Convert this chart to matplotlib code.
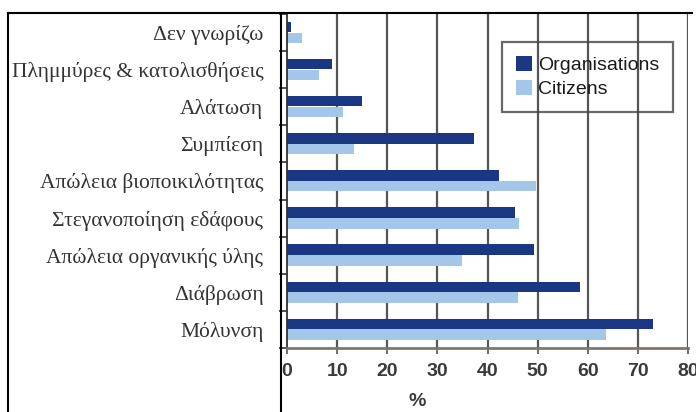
import matplotlib
matplotlib.use("Agg")
import matplotlib.pyplot as plt
from matplotlib.lines import Line2D
import numpy as np

# Soil threats, as in the source chart (top to bottom)
categories = [
    "Δεν γνωρίζω",
    "Πλημμύρες & κατολισθήσεις",
    "Αλάτωση",
    "Συμπίεση",
    "Απώλεια βιοποικιλότητας",
    "Στεγανοποίηση εδάφους",
    "Απώλεια οργανικής ύλης",
    "Διάβρωση",
    "Μόλυνση",
]
organisations = [0.8, 9, 15, 37.4, 42.3, 45.4, 49.2, 58.4, 73]
citizens = [3, 6.3, 11.2, 13.4, 49.7, 46.3, 34.9, 46.1, 63.7]
xticks = [0, 10, 20, 30, 40, 50, 60, 70, 80]

ORG_COLOR = "#1a3783"
CIT_COLOR = "#a3c6e9"
W, H = 696, 412

fig = plt.figure(figsize=(W / 100, H / 100), dpi=100)
ax = fig.add_axes([287 / W, 1 - 348 / H, (688 - 287) / W, (348 - 14) / H])

y = np.arange(len(categories))
bar_h = 0.28
ax.barh(y - 0.15, organisations, height=bar_h, color=ORG_COLOR, label="Organisations", zorder=2)
ax.barh(y + 0.14, citizens, height=bar_h, color=CIT_COLOR, label="Citizens", zorder=2)

ax.set_xlim(0, 80)
ax.set_ylim(8.5, -0.41)

# vertical grid
for xv in xticks[1:]:
    ax.axvline(xv, color="#555555", lw=1.6, zorder=1)

ax.set_xticks(xticks)
ax.set_xticklabels([str(v) for v in xticks], fontsize=14, color="#3a3a3a",
                   family="Liberation Sans", fontweight="bold")
ax.tick_params(axis="x", length=4, width=1.2, color="#555555", pad=7)

ax.set_yticks(y)
ax.set_yticklabels(categories, fontsize=15.5, color="#333333", family="Liberation Serif")
ax.tick_params(axis="y", which="major", length=0, pad=17)
ax.set_yticks(np.arange(-0.5, 8.6, 1), minor=True)
ax.tick_params(axis="y", which="minor", length=6, width=1.2, color="#333333")

for s in ["top", "right"]:
    ax.spines[s].set_visible(False)
ax.spines["left"].set_color("#333333")
ax.spines["left"].set_linewidth(1.3)
ax.spines["bottom"].set_color("#7d7570")
ax.spines["bottom"].set_linewidth(2)

ax.set_xlabel("%", fontsize=14, color="#3a3a3a", family="Liberation Sans", fontweight="bold")
ax.xaxis.set_label_coords((417 - 287) / (688 - 287), -(402 - 348) / (348 - 14))
ax.xaxis.label.set_va("center")

leg = ax.legend(loc="upper left", bbox_to_anchor=((502 - 287) / 401, 1 - (42 - 14) / 334),
                frameon=True, fancybox=False, edgecolor="#444444",
                prop={"family": "Liberation Sans", "size": 14},
                handlelength=0.85, handleheight=0.85, handletextpad=0.3,
                labelspacing=0.3, borderpad=0.7, borderaxespad=0)
leg.get_frame().set_linewidth(1.6)
leg.get_frame().set_facecolor("none")
for t in leg.get_texts():
    t.set_color("#1a1a1a")

# document table frame around the chart
frame = dict(color="black", lw=1.5, transform=fig.transFigure)
fig.add_artist(Line2D([8 / W, 692 / W], [1 - 13 / H, 1 - 13 / H], **frame))
fig.add_artist(Line2D([8 / W, 8 / W], [1 - 13 / H, 0], **frame))
fig.add_artist(Line2D([281 / W, 281 / W], [1 - 13 / H, 0], **frame))

fig.savefig("out.png", dpi=100)
